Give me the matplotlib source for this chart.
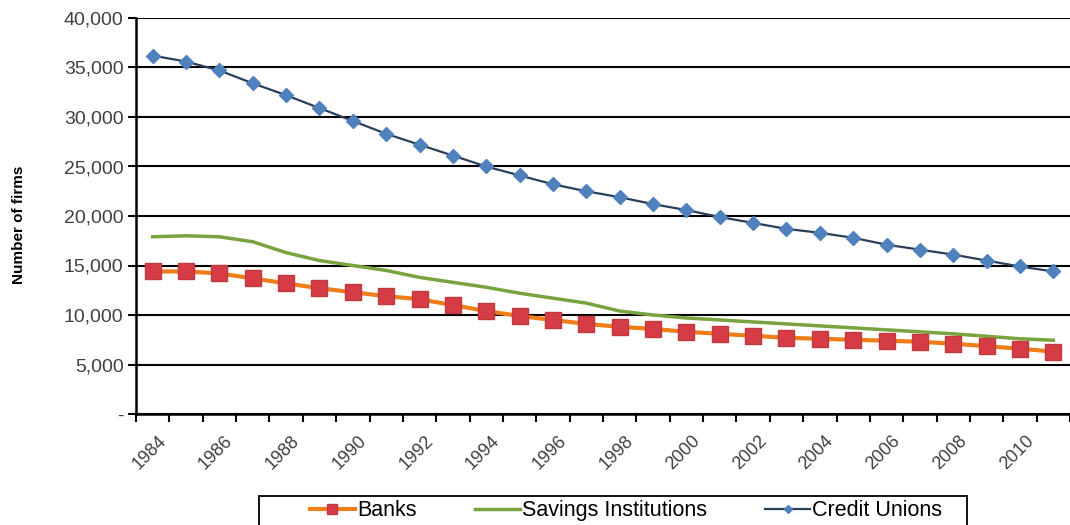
import matplotlib.pyplot as plt
from matplotlib.patches import Rectangle
from matplotlib.ticker import FuncFormatter
from matplotlib.transforms import ScaledTranslation

plt.rcParams['font.family'] = ['Liberation Sans', 'DejaVu Sans']

years = list(range(1984, 2012))

banks = [14400, 14400, 14200, 13700, 13200, 12700, 12300, 11900, 11600, 11000,
         10400, 9900, 9500, 9100, 8800, 8600, 8300, 8100, 7900, 7700,
         7600, 7500, 7400, 7300, 7100, 6850, 6600, 6300]

savings = [17900, 18000, 17900, 17400, 16300, 15500, 15000, 14500, 13800, 13300,
           12800, 12200, 11700, 11200, 10400, 10000, 9700, 9500, 9300, 9100,
           8900, 8700, 8500, 8300, 8100, 7850, 7600, 7450]

credit_unions = [36200, 35600, 34700, 33400, 32200, 30900, 29600, 28300, 27200, 26100,
                 25000, 24100, 23200, 22500, 21900, 21200, 20600, 19900, 19300, 18700,
                 18300, 17800, 17100, 16600, 16100, 15500, 14900, 14400]

x = list(range(len(years)))

fig = plt.figure(figsize=(10.7, 5.25), dpi=100)
ax = fig.add_axes([136 / 1070, 1 - 414 / 525, (1070 - 136) / 1070, 396 / 525])

ax.plot(x, banks, color='#EE7D1A', lw=3, marker='s', ms=11,
        mfc='#D63C45', mec='#C0393F', label='Banks', zorder=3)
ax.plot(x, savings, color='#78A33E', lw=2.5, label='Savings Institutions',
        solid_joinstyle='round', zorder=2)
ax.plot(x, credit_unions, color='#2A3F5A', lw=1.6, marker='D', ms=7,
        mfc='#4F81BD', mec='#4F81BD', label='Credit Unions', zorder=4)

ax.set_ylim(0, 40000)
ax.set_yticks(range(0, 40001, 5000))
ax.yaxis.set_major_formatter(FuncFormatter(lambda v, p: '-' if v == 0 else f'{int(v):,}'))
ax.grid(axis='y', color='black', lw=1.5)
ax.set_axisbelow(True)

# category axis: ticks on boundaries, labels every other year
ax.set_xlim(-0.5, -0.5 + (1070 - 136) / 33.7)
ax.set_xticks([i - 0.5 for i in range(len(years) + 1)])
ax.set_xticklabels([])
ax.set_xticks(x[::2], [str(y) for y in years[::2]], minor=True)
ax.tick_params(axis='x', which='minor', length=0, labelsize=13,
               labelcolor='#404040', pad=13)
shift = ScaledTranslation(5 / 100, 0, fig.dpi_scale_trans)
for lbl in ax.get_xticklabels(minor=True):
    lbl.set_rotation(45)
    lbl.set_ha('right')
    lbl.set_rotation_mode('anchor')
    lbl.set_transform(lbl.get_transform() + shift)
ax.tick_params(axis='x', which='major', length=6, width=1.5, color='black')
ax.tick_params(axis='y', length=6, width=1.5, color='black', labelsize=14,
               labelcolor='#404040', pad=3)

for s in ['top', 'right']:
    ax.spines[s].set_visible(False)
for s in ['left', 'bottom']:
    ax.spines[s].set_linewidth(1.8)
    ax.spines[s].set_color('black')

ax.set_ylabel('Number of firms', fontsize=11, fontweight='bold')
ax.yaxis.set_label_coords(-0.118, 0.477)

leg = fig.legend(loc='upper center', bbox_to_anchor=(626 / 1070, 1 - 497 / 525), ncol=3,
                 fontsize=15.5, frameon=False, borderaxespad=0, borderpad=0.15,
                 handlelength=2.1, columnspacing=2.7, handletextpad=0.1)
for line in leg.get_lines():
    line.set_markersize(line.get_markersize() * 0.6)
fig.patches.append(Rectangle((259 / 1070, -0.01), (967 - 259) / 1070, (525 - 496) / 525 + 0.01,
                             transform=fig.transFigure, fill=False, edgecolor='black', lw=1.3))

fig.savefig('out.png', dpi=100)
